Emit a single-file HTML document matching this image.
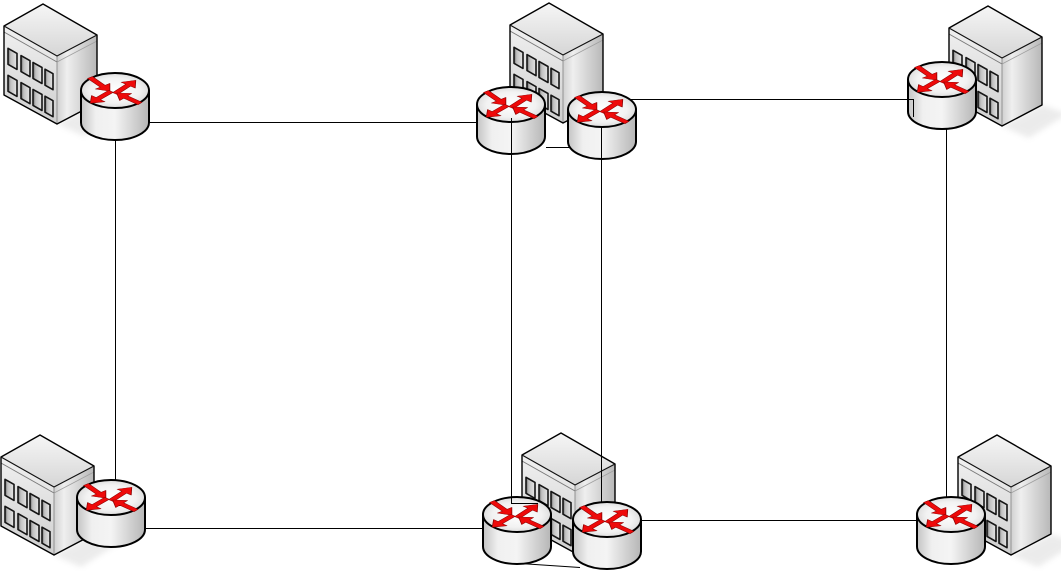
<!DOCTYPE html>
<html>
<head>
<meta charset="utf-8">
<style>
html,body{margin:0;padding:0;background:#fff;overflow:hidden;}
svg{display:block;}
</style>
</head>
<body>
<svg width="1061" height="571" viewBox="0 0 1061 571" xmlns="http://www.w3.org/2000/svg">
<defs>
  <linearGradient id="side" x1="0" y1="0" x2="1" y2="0">
    <stop offset="0" stop-color="#c4c4c4"/>
    <stop offset="0.22" stop-color="#f0f0f0"/>
    <stop offset="0.5" stop-color="#f4f4f4"/>
    <stop offset="1" stop-color="#b6b6b6"/>
  </linearGradient>
  <radialGradient id="topg" cx="0.5" cy="0.5" r="0.6">
    <stop offset="0" stop-color="#ffffff"/>
    <stop offset="0.6" stop-color="#f2f2f2"/>
    <stop offset="1" stop-color="#d0d0d0"/>
  </radialGradient>
  <linearGradient id="roofg" x1="0" y1="0" x2="0" y2="1">
    <stop offset="0" stop-color="#f6f6f6"/>
    <stop offset="1" stop-color="#d6d6d6"/>
  </linearGradient>
  <linearGradient id="leftg" x1="0" y1="0" x2="0" y2="1">
    <stop offset="0" stop-color="#f0f0f0"/>
    <stop offset="1" stop-color="#cfcfcf"/>
  </linearGradient>
  <linearGradient id="rightg" x1="0" y1="0" x2="1" y2="0">
    <stop offset="0" stop-color="#d0d0d0"/>
    <stop offset="0.25" stop-color="#efefef"/>
    <stop offset="1" stop-color="#b8b8b8"/>
  </linearGradient>
  <linearGradient id="wing" x1="0" y1="0" x2="1" y2="0">
    <stop offset="0" stop-color="#6a6a6a"/>
    <stop offset="0.3" stop-color="#c0c0c0"/>
    <stop offset="1" stop-color="#e6e6e6"/>
  </linearGradient>
  <filter id="blur" x="-50%" y="-50%" width="200%" height="200%">
    <feGaussianBlur stdDeviation="3"/>
  </filter>

  <g id="bldg">
    <polygon points="57,124 97,103 122,112 84,136" fill="#c8c8c8" opacity="0.35" filter="url(#blur)"/>
    <polygon points="4,26 57,56 57,124 4,95" fill="url(#leftg)"/>
    <polygon points="57,56 97,35 97,103 57,124" fill="url(#rightg)"/>
    <polygon points="4,26 43,4 97,35 57,56" fill="url(#roofg)"/>
    <line x1="4" y1="32" x2="57" y2="62" stroke="#7a7a7a" stroke-width="1"/>
    <line x1="57" y1="62" x2="97" y2="41" stroke="#a0a0a0" stroke-width="0.8"/>
    <line x1="57" y1="56" x2="57" y2="124" stroke="#8a8a8a" stroke-width="0.9"/>
    <g fill="url(#wing)" stroke="#151515" stroke-width="1.6" stroke-linejoin="round">
      <polygon points="8,48.3 17,53.4 17,69.4 8,64.3"/>
      <polygon points="21,55.6 30,60.7 30,76.7 21,71.6"/>
      <polygon points="33,62.4 42,67.5 42,83.5 33,78.4"/>
      <polygon points="45,69.2 53,73.7 53,89.7 45,85.2"/>
      <polygon points="8,75.3 17,80.4 17,96.4 8,91.3"/>
      <polygon points="21,82.6 30,87.7 30,103.7 21,98.6"/>
      <polygon points="33,89.4 42,94.5 42,110.5 33,105.4"/>
      <polygon points="45,96.2 53,100.7 53,116.7 45,112.2"/>
    </g>
    <polygon points="4,26 43,4 97,35 97,103 57,124 4,95" fill="none" stroke="#000" stroke-width="1.4" stroke-linejoin="round"/>
    <polyline points="4,26 57,56 97,35" fill="none" stroke="#111" stroke-width="1.2"/>
  </g>

  <g id="router">
    <path d="M0,17.5 V49.5 A34,17.5 0 0 0 68,49.5 V17.5 Z" fill="url(#side)" stroke="#000" stroke-width="2" stroke-linejoin="round"/>
    <ellipse cx="34" cy="17.5" rx="34" ry="17.5" fill="url(#topg)" stroke="#000" stroke-width="2"/>
    <g transform="translate(34,17.5) scale(1,0.52)" fill="#ee0a0a" stroke="#8b0000" stroke-width="0.8" stroke-linejoin="round">
      <polygon transform="translate(-25,-25) rotate(53)" points="0,-3 21,-3 21,-9 33,0 21,9 21,3 0,3"/>
      <polygon transform="translate(0,6) rotate(-51)" points="0,-3 21,-3 21,-9 33,0 21,9 21,3 0,3"/>
      <polygon transform="translate(-4,1.5) rotate(132)" points="0,-3 19,-3 19,-9 31,0 19,9 19,3 0,3"/>
      <polygon transform="translate(25,25) rotate(221)" points="0,-3 19,-3 19,-9 31,0 19,9 19,3 0,3"/>
    </g>
  </g>
</defs>

<rect width="1061" height="571" fill="#fff"/>

<!-- buildings -->
<use href="#bldg" x="0" y="0"/>
<use href="#bldg" x="506" y="-1"/>
<use href="#bldg" x="945" y="2"/>
<use href="#bldg" x="-3" y="431"/>
<use href="#bldg" x="518" y="429"/>
<use href="#bldg" x="954" y="431"/>

<!-- connectors under routers -->
<g stroke="#000" stroke-width="1" fill="none">
  <path d="M148,122.5 H478"/>
  <path d="M115.5,140 V482"/>
  <path d="M144,528.5 H484"/>
  <path d="M546,147.5 H569"/>
  <path d="M946.5,128 V497"/>
  <path d="M640,520.5 H918"/>
  <path d="M520,563.5 L580,567.5"/>
</g>

<!-- routers -->
<use href="#router" x="81" y="73"/>
<use href="#router" x="477" y="87"/>
<use href="#router" x="568" y="92"/>
<use href="#router" x="908" y="62"/>
<use href="#router" x="77" y="480"/>
<use href="#router" x="483" y="497"/>
<use href="#router" x="573" y="502"/>
<use href="#router" x="917" y="497"/>

<!-- connectors over routers -->
<g stroke="#000" stroke-width="1" fill="none">
  <path d="M511.5,118 V503.5 H538"/>
  <path d="M601.5,127 V503"/>
  <path d="M629,99.5 H913.5 V117"/>
</g>
</svg>
</body>
</html>
